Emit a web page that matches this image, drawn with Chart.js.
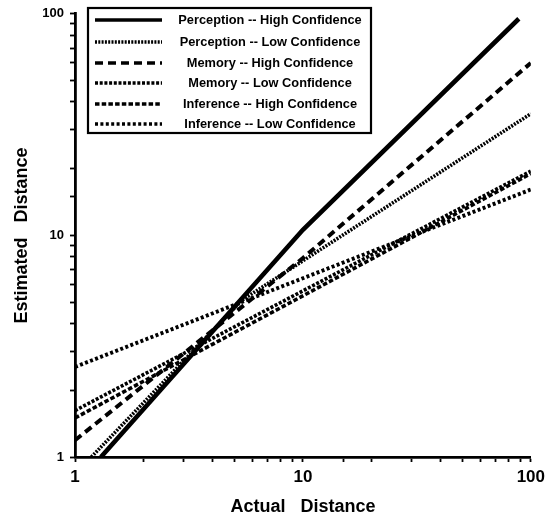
<!DOCTYPE html>
<html>
<head>
<meta charset="utf-8">
<script src="https://cdn.jsdelivr.net/npm/chart.js@4"></script>
<style>
html,body{margin:0;padding:0;background:#fff;}
#wrap{width:550px;height:521px;position:relative;}
</style>
</head>
<body>
<div id="wrap"><canvas id="c" width="550" height="521"></canvas></div>
<script>
// ---- Data ----
const seriesLabels = [
  "Perception -- High Confidence",
  "Perception -- Low Confidence",
  "Memory -- High Confidence",
  "Memory -- Low Confidence",
  "Inference -- High Confidence",
  "Inference -- Low Confidence"
];
const perceptionHighX = [1.3, 10, 88.6];
const perceptionHighY = [1, 10.6, 95];
const perceptionLowX  = [1.18, 5.4, 100];
const perceptionLowY  = [1, 5.1, 35.4];
const memoryHighX     = [1, 10, 100];
const memoryHighY     = [1.19, 7.9, 60];
const memoryLowX      = [1, 100];
const memoryLowY      = [1.62, 19.5];
const inferenceHighX  = [1, 100];
const inferenceHighY  = [1.50, 19.0];
const inferenceLowX   = [1, 100];
const inferenceLowY   = [2.55, 16.1];
const majorTicks = [1, 10, 100];

const seriesX = [perceptionHighX, perceptionLowX, memoryHighX, memoryLowX, inferenceHighX, inferenceLowX];
const seriesY = [perceptionHighY, perceptionLowY, memoryHighY, memoryLowY, inferenceHighY, inferenceLowY];

// ---- Styles ----
const styles = [
  {w: 4.6, dash: []},
  {w: 3.6, dash: [2, 1.3]},
  {w: 4.0, dash: [8, 5]},
  {w: 3.6, dash: [3, 1.7]},
  {w: 3.6, dash: [4.5, 2.2]},
  {w: 3.9, dash: [3, 2.4]}
];

const datasets = seriesLabels.map((lab, i) => ({
  label: lab,
  data: seriesX[i].map((x, j) => ({x: x, y: seriesY[i][j]})),
  borderColor: '#000',
  borderWidth: styles[i].w,
  borderDash: styles[i].dash,
  pointRadius: 0,
  fill: false,
  tension: 0,
  showLine: true
}));

const legendPlugin = {
  id: 'boxLegend',
  afterDatasetsDraw(chart) {
    const ctx = chart.ctx;
    const bx = 88, by = 8, bw = 283, bh = 125;
    ctx.save();
    ctx.fillStyle = '#fff';
    ctx.fillRect(bx, by, bw, bh);
    ctx.strokeStyle = '#000';
    ctx.lineWidth = 2.2;
    ctx.strokeRect(bx, by, bw, bh);
    const rowY = [20, 42, 63, 83, 104, 124];
    chart.data.datasets.forEach((ds, i) => {
      const y = rowY[i];
      ctx.beginPath();
      ctx.setLineDash(ds.borderDash || []);
      ctx.lineWidth = Math.min(ds.borderWidth, 3.6);
      ctx.strokeStyle = '#000';
      ctx.moveTo(95, y);
      ctx.lineTo(162, y);
      ctx.stroke();
      ctx.setLineDash([]);
      ctx.fillStyle = '#000';
      ctx.font = 'bold 12.8px "Liberation Sans", Arial, sans-serif';
      ctx.textAlign = 'center';
      ctx.textBaseline = 'middle';
      ctx.fillText(ds.label, 270, y);
    });
    ctx.restore();
  }
};

const bgPlugin = {
  id: 'bg',
  beforeDraw(chart) {
    const ctx = chart.ctx;
    ctx.save();
    ctx.fillStyle = '#fff';
    ctx.fillRect(0, 0, chart.width, chart.height);
    ctx.restore();
  }
};

const tickLabel = v => majorTicks.includes(Number(v)) ? String(v) : '';

new Chart(document.getElementById('c'), {
  type: 'scatter',
  data: {datasets: datasets},
  options: {
    responsive: false,
    animation: false,
    devicePixelRatio: 1,
    layout: {padding: {left: 0, right: 18, top: 12, bottom: 0}},
    plugins: {legend: {display: false}, tooltip: {enabled: false}},
    scales: {
      x: {
        type: 'logarithmic',
        min: 1, max: 100,
        afterFit: s => { s.height = 64; },
        border: {display: true, color: '#000', width: 2.8},
        grid: {display: true, drawOnChartArea: false, drawTicks: true, tickLength: 5, tickColor: '#000', tickWidth: 1.8},
        ticks: {
          autoSkip: false, maxRotation: 0, padding: 5,
          color: '#000',
          font: {family: '"Liberation Sans", Arial, sans-serif', size: 17, weight: 'bold'},
          callback: tickLabel
        },
        title: {
          display: true, text: 'Actual   Distance', color: '#000',
          font: {family: '"Liberation Sans", Arial, sans-serif', size: 18, weight: 'bold'},
          padding: {top: 0, bottom: 3}
        }
      },
      y: {
        type: 'logarithmic',
        min: 1, max: 100,
        afterFit: s => { s.width = 75; },
        border: {display: true, color: '#000', width: 2.8},
        grid: {display: true, drawOnChartArea: false, drawTicks: true, tickLength: 5, tickColor: '#000', tickWidth: 1.8},
        ticks: {
          autoSkip: false, padding: 6,
          color: '#000',
          font: {family: '"Liberation Sans", Arial, sans-serif', size: 13, weight: 'bold'},
          callback: tickLabel
        },
        title: {
          display: true, text: 'Estimated   Distance', color: '#000',
          font: {family: '"Liberation Sans", Arial, sans-serif', size: 18, weight: 'bold'},
          padding: {top: 11, bottom: 0}
        }
      }
    }
  },
  plugins: [bgPlugin, legendPlugin]
});
</script>
</body>
</html>
